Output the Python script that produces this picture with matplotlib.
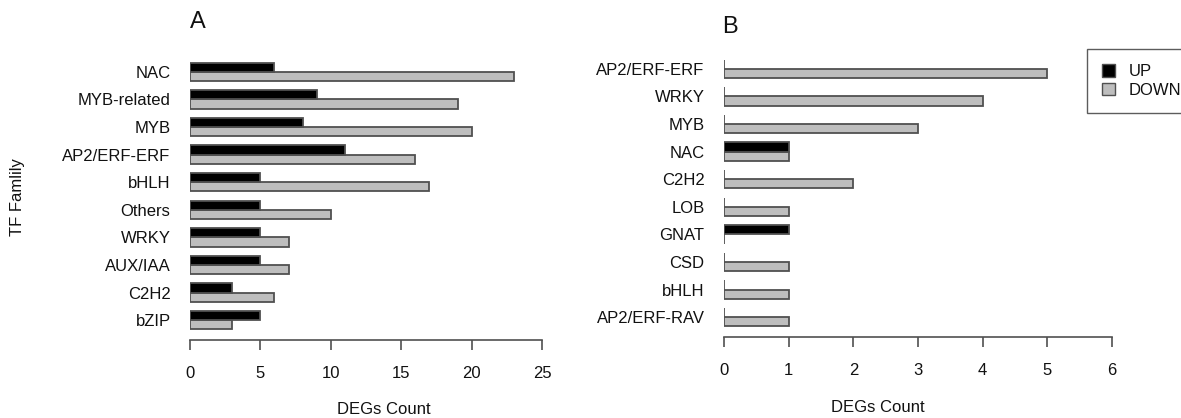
import matplotlib
matplotlib.use("Agg")
import matplotlib.pyplot as plt
from matplotlib.patches import Patch
import numpy as np

plt.rcParams['font.family'] = ['Liberation Sans', 'DejaVu Sans']

# panel A
fam_a = ["NAC", "MYB-related", "MYB", "AP2/ERF-ERF", "bHLH",
         "Others", "WRKY", "AUX/IAA", "C2H2", "bZIP"]
up_a = [6, 9, 8, 11, 5, 5, 5, 5, 3, 5]
down_a = [23, 19, 20, 16, 17, 10, 7, 7, 6, 3]

# panel B
fam_b = ["AP2/ERF-ERF", "WRKY", "MYB", "NAC", "C2H2",
         "LOB", "GNAT", "CSD", "bHLH", "AP2/ERF-RAV"]
up_b = [0, 0, 0, 1, 0, 0, 1, 0, 0, 0]
down_b = [5, 4, 3, 1, 2, 1, 0, 1, 1, 1]

ticks_a = [0, 5, 10, 15, 20, 25]
ticks_b = [0, 1, 2, 3, 4, 5, 6]

W, H = 1181, 418
fig = plt.figure(figsize=(W / 100, H / 100), dpi=100)

txt = "#111111"
edge = "#505050"


def panel(rect, fams, up, down, ticks, letter, letter_xy):
    ax = fig.add_axes(rect)
    n = len(fams)
    # barplot a la R : groupe du bas d'abord, 1 unite d'espace entre groupes
    base = 1 + 3 * np.arange(n)[::-1]
    ax.barh(base + 0.5, down, height=1, color="#bebebe", edgecolor=edge, linewidth=1.3)
    ax.barh(base + 1.5, up, height=1, color="black", edgecolor=edge, linewidth=1.3)
    ax.set_ylim(1 - 1.16, 3 * n + 1.16)
    ax.set_xlim(ticks[0], ticks[-1])
    ax.set_yticks(base + 1)
    ax.set_yticklabels(fams)
    ax.tick_params(axis="y", length=0, pad=14, labelsize=12, labelcolor=txt)
    ax.set_xticks(ticks)
    ax.set_xticklabels([str(t) for t in ticks])
    ax.tick_params(axis="x", length=7, width=1.2, color=edge, pad=12,
                   labelsize=12, labelcolor=txt)
    for s in ["top", "right", "left"]:
        ax.spines[s].set_visible(False)
    ax.spines["bottom"].set_color(edge)
    ax.spines["bottom"].set_linewidth(1.2)
    ax.patch.set_visible(False)
    fig.text(letter_xy[0] / W, 1 - letter_xy[1] / H, letter, fontsize=17,
             ha="center", va="center", color=txt)
    return ax


def rect_px(x0, x1, ybot, ytop):
    return [x0 / W, 1 - ybot / H, (x1 - x0) / W, (ybot - ytop) / H]


ax_a = panel(rect_px(190, 542, 340, 52), fam_a, up_a, down_a, ticks_a, "A", (198, 22))
ax_b = panel(rect_px(724, 1112, 337, 49), fam_b, up_b, down_b, ticks_b, "B", (730, 27))

fig.text(384 / W, 1 - 410 / H, "DEGs Count", fontsize=12, ha="center", va="center", color=txt)
fig.text(878 / W, 1 - 407 / H, "DEGs Count", fontsize=12, ha="center", va="center", color=txt)
fig.text(18 / W, 1 - 197 / H, "TF Famlily", fontsize=12, rotation=90,
         ha="center", va="center", color=txt)

handles = [Patch(facecolor="black", edgecolor=edge, label="UP"),
           Patch(facecolor="#bebebe", edgecolor=edge, label="DOWN")]
leg = fig.legend(handles=handles, loc="upper left", bbox_to_anchor=(1087 / W, 1 - 49 / H),
                 borderaxespad=0, fontsize=12, frameon=True, fancybox=False,
                 handlelength=0.8, handleheight=0.8, handletextpad=0.8,
                 labelspacing=0.2, borderpad=0.9, edgecolor="#333333")
leg.get_frame().set_linewidth(1.0)
for t in leg.get_texts():
    t.set_color(txt)

plt.savefig("out.png", dpi=100)
